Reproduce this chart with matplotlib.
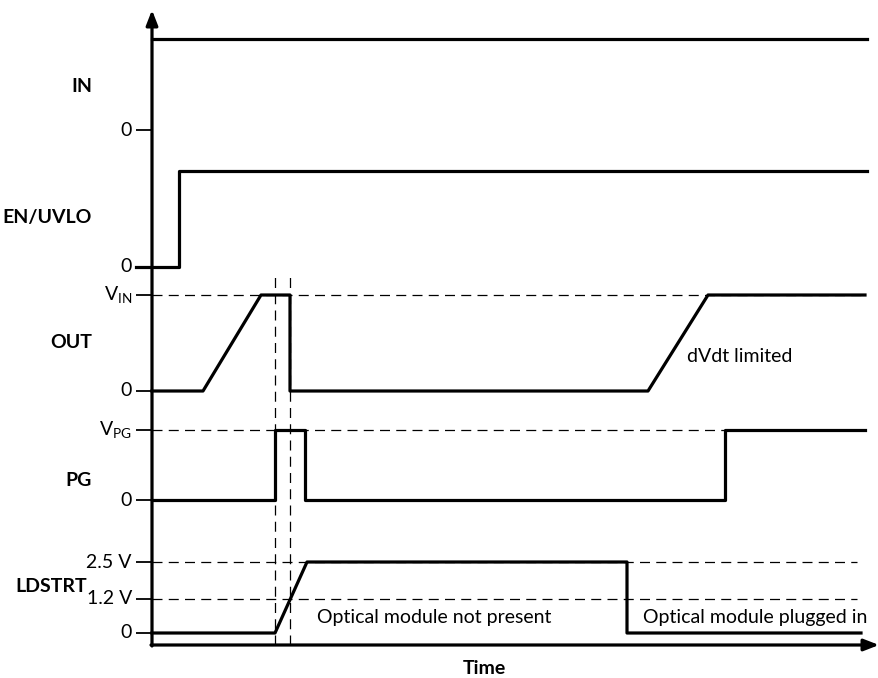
import matplotlib
matplotlib.use("Agg")
import matplotlib.pyplot as plt

plt.rcParams['font.family'] = ['Lato', 'DejaVu Sans']
plt.rcParams['mathtext.fontset'] = 'custom'
plt.rcParams['mathtext.rm'] = 'Lato'

# transition times (time units) and logic levels for each trace
in_t = [0, 715]
in_lv = [1, 1]
en_t = [-16, 27, 27, 715]
en_lv = [0, 0, 1, 1]
out_t = [0, 51, 109, 138, 138, 496, 556, 713]
out_lv = [0, 0, 1, 1, 0, 0, 1, 1]
pg_t = [0, 123, 123, 153, 153, 573, 573, 713]
pg_lv = [0, 0, 1, 1, 0, 0, 1, 1]
ld_t = [0, 123, 155, 475, 475, 709]
ld_v = [0, 0, 2.5, 2.5, 0, 0]
ld_ticks = [0, 1.2, 2.5]
ld_tick_labels = ['0', '1.2 V', '2.5 V']
marker_t = [123, 138]  # dashed vertical markers

# lane layout: baseline and height of each trace
lanes = {
    'IN': (515, 91),
    'EN/UVLO': (378, 96),
    'OUT': (254, 96),
    'PG': (145, 70),
}
ld_base = 12
ld_scale = 28.4  # per volt

LW = 2.3
FS = 14
DASH = dict(color='black', lw=0.9, ls=(0, (8, 5)))

fig = plt.figure(figsize=(8.79, 6.78), dpi=100)
ax = fig.add_axes([0, 0, 1, 1])
ax.set_xlim(-152, 727)
ax.set_ylim(-33, 645)
ax.axis('off')


def lane_y(name, levels):
    base, h = lanes[name]
    return [base + v * h for v in levels]


def tick(y, label):
    ax.plot([-16, 0], [y, y], color='black', lw=1.3, solid_capstyle='butt')
    ax.text(-20, y, label, ha='right', va='center', fontsize=FS)


# axes with arrows
ax.annotate('', xy=(0, 635), xytext=(0, -1),
            arrowprops=dict(arrowstyle='-|>,head_length=0.9,head_width=0.35',
                            lw=LW, color='black', shrinkA=0, shrinkB=0))
ax.annotate('', xy=(727, 0), xytext=(-1, 0),
            arrowprops=dict(arrowstyle='-|>,head_length=0.9,head_width=0.35',
                            lw=LW, color='black', shrinkA=0, shrinkB=0))

# dashed reference lines
ax.plot([0, 709], [lanes['OUT'][0] + lanes['OUT'][1]] * 2, **DASH)
ax.plot([0, 573], [lanes['PG'][0] + lanes['PG'][1]] * 2, **DASH)
for v in ld_ticks[1:]:
    ax.plot([0, 705], [ld_base + v * ld_scale] * 2, **DASH)
for t in marker_t:
    ax.plot([t, t], [0, 370], **DASH)

# traces
ax.plot(in_t, lane_y('IN', in_lv), color='black', lw=LW)
ax.plot(en_t, lane_y('EN/UVLO', en_lv), color='black', lw=LW)
ax.plot(out_t, lane_y('OUT', out_lv), color='black', lw=LW)
ax.plot(pg_t, lane_y('PG', pg_lv), color='black', lw=LW)
ax.plot(ld_t, [ld_base + v * ld_scale for v in ld_v], color='black', lw=LW)

# ticks and level labels
tick(lanes['IN'][0], '0')
tick(lanes['EN/UVLO'][0], '0')
tick(lanes['OUT'][0], '0')
tick(lanes['OUT'][0] + lanes['OUT'][1], r'V$_{\mathrm{IN}}$')
tick(lanes['PG'][0], '0')
tick(lanes['PG'][0] + lanes['PG'][1], r'V$_{\mathrm{PG}}$')
for v, lab in zip(ld_ticks, ld_tick_labels):
    tick(ld_base + v * ld_scale, lab)

# trace names
for name, y in [('IN', 558), ('EN/UVLO', 427), ('OUT', 302), ('PG', 165)]:
    ax.text(-60, y, name, ha='right', va='center', fontsize=FS, fontweight='bold')
ax.text(-65, 59, 'LDSTRT', ha='right', va='center', fontsize=FS, fontweight='bold')

# annotations
ax.text(535, 289, 'dVdt limited', ha='left', va='center', fontsize=FS)
ax.text(165, 28, 'Optical module not present', ha='left', va='center', fontsize=FS)
ax.text(491, 28, 'Optical module plugged in', ha='left', va='center', fontsize=FS)
ax.text(332, -24, 'Time', ha='center', va='center', fontsize=FS, fontweight='bold')

fig.savefig('out.png', dpi=100)
